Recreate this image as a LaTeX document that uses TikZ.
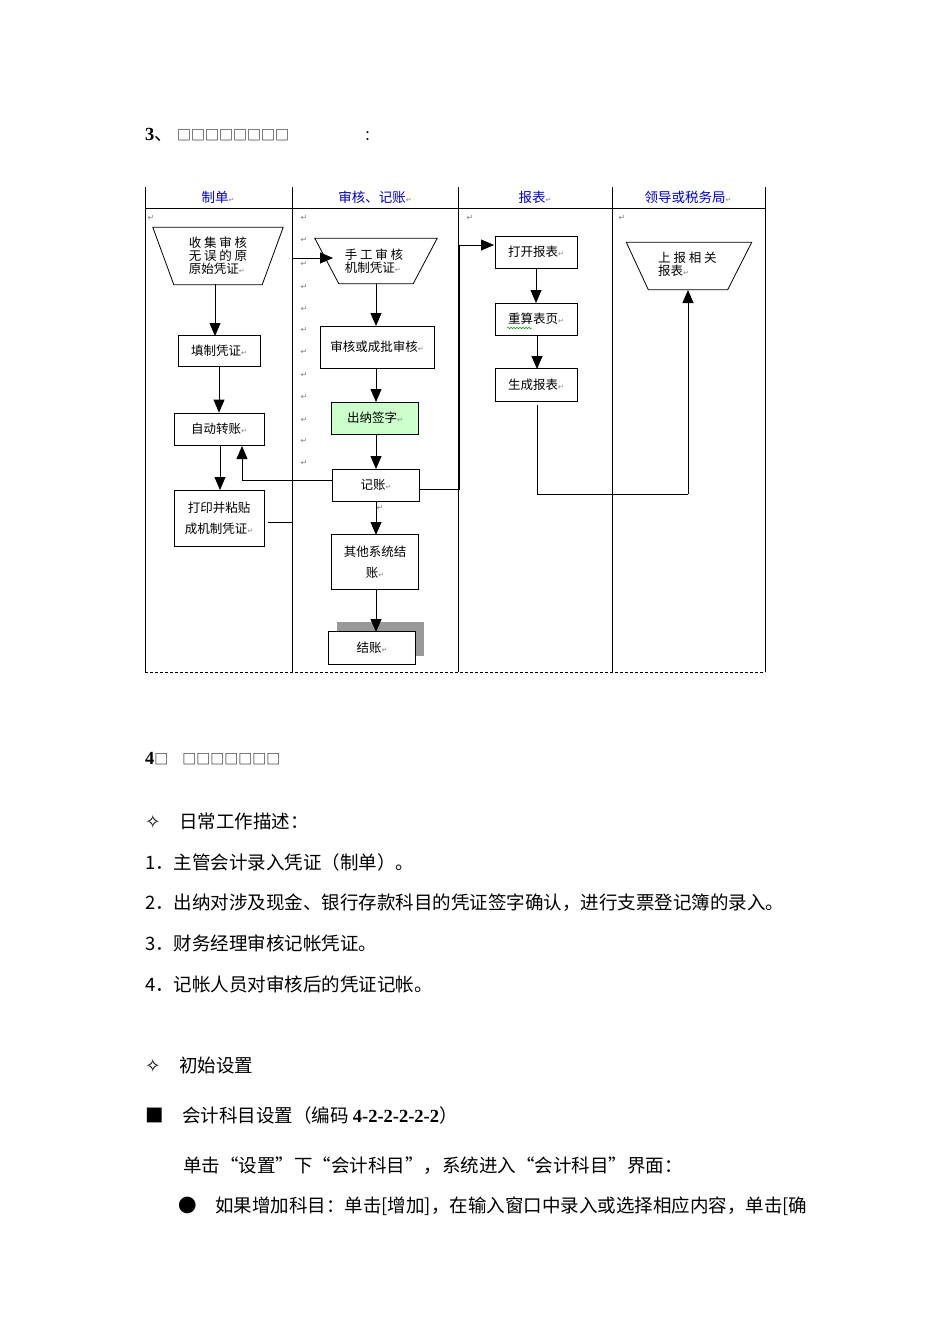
\documentclass[tikz,border=0pt]{standalone}
\usepackage{fontspec}
\setmainfont{Liberation Serif}
\newfontfamily\cjk{Noto Sans CJK SC}
\newfontfamily\dv{DejaVu Sans}
\newcommand{\rmk}{\textcolor{gray}{\dv\fontsize{7}{8}\selectfont ↵}}
\usetikzlibrary{arrows.meta,decorations.pathmorphing}
\begin{document}
\begin{tikzpicture}[x=1pt,y=-1pt,
  box/.style={draw,line width=0.8pt,inner sep=0pt,font=\cjk\fontsize{12.5}{15}\selectfont,align=center},
  trap/.style={inner sep=0pt,font=\cjk\fontsize{12.5}{14}\selectfont,align=left},
  arr/.style={line width=0.8pt,-{Triangle[width=11pt,length=13pt]}},
  ln/.style={line width=0.8pt},
  hd/.style={font=\cjk\fontsize{13.5}{15}\selectfont,text=blue!80!black},
  rm/.style={font=\dv\fontsize{8}{9}\selectfont,text=gray,inner sep=0pt},
  body/.style={anchor=west,inner sep=0pt,font=\cjk\fontsize{18.5}{20}\selectfont}]
\useasboundingbox (0,0) rectangle (950,1344);
\fill[white] (0,0) rectangle (950,1344);
% title
\node[body,anchor=west] (title) at (145,135) {\textbf{\fontspec{Liberation Serif}3}、\ \fontsize{14}{16}\selectfont □□□□□□□□\hspace{75pt}：};
% table
\draw[ln] (145,187) -- (145,672) (292,187) -- (292,672) (458,187) -- (458,672) (612,187) -- (612,672) (765,187) -- (765,672);
\draw[ln] (145,208) -- (765,208);
\draw[ln,dashed,dash pattern=on 3pt off 2pt] (145,672) -- (765,672);
\node[hd] (h1) at (218,197) {制单\rmk};
\node[hd] (h2) at (375,197) {审核、记账\rmk};
\node[hd] (h3) at (535,197) {报表\rmk};
\node[hd] (h4) at (688,197) {领导或税务局\rmk};
% return marks
\foreach \i/\x/\y in {a/151/218,b/470/218,c/622/218}{\node[rm] (r\i) at (\x,\y) {↵};}
\foreach \y [count=\k] in {218,240,264,287,309,330,352,375,397,420,441,463}{\node[rm] (m\k) at (304,\y) {↵};}
% left column
\node[trap,minimum width=130pt,minimum height=57pt] (t1) at (218,256) {};
\draw[ln] (t1.north west) -- (t1.north east) -- ([xshift=-21pt]t1.south east) -- ([xshift=21pt]t1.south west) -- cycle;
\node[trap] (t1t) at (218,256) {收 集 审 核\\[-1pt]无 误 的 原\\[-1pt]原始凭证\rmk};
\node[box,minimum width=82pt,minimum height=31pt] (b1) at (219,351) {填制凭证\rmk};
\node[box,minimum width=90pt,minimum height=32pt] (b2) at (219,429) {自动转账\rmk};
\node[box,minimum width=90pt,minimum height=56pt,font=\cjk\fontsize{12.5}{21}\selectfont] (b3) at (219,518) {打印并粘贴\\成机制凭证\rmk};
\draw[arr] (215,284) -- (215,336);
\draw[arr] (b1.south) -- (b2.north);
\draw[arr] (220,445) -- (220,490);
% middle column
\node[trap,minimum width=122pt,minimum height=45pt] (t2) at (376,261) {};
\draw[ln] (t2.north west) -- (t2.north east) -- ([xshift=-24pt]t2.south east) -- ([xshift=24pt]t2.south west) -- cycle;
\node[trap] (t2t) at (374,261) {手 工 审 核\\[-1pt]机制凭证\rmk};
\node[box,minimum width=114pt,minimum height=42pt] (c1) at (377,347) {审核或成批审核\rmk};
\node[box,minimum width=87pt,minimum height=32pt,fill=green!20] (c2) at (375,418) {出纳签字\rmk};
\node[box,minimum width=87pt,minimum height=32pt] (c3) at (376,485) {记账\rmk};
\node[box,minimum width=87pt,minimum height=55pt,font=\cjk\fontsize{12.5}{21}\selectfont] (c4) at (375,562) {其他系统结\\账\rmk};
\fill[gray!80] (337,622) rectangle (424,656);
\node[box,minimum width=87pt,minimum height=33pt,fill=white] (c5) at (372,648) {结账\rmk};
\node[rm] (m13) at (380,508) {↵};
\draw[arr] (376,284) -- (376,326);
\draw[arr] (376,368) -- (376,402);
\draw[arr] (376,434) -- (376,469);
\draw[arr] (376,501) -- (376,535);
\draw[arr] (376,590) -- (376,632);
% report column
\node[box,minimum width=82pt,minimum height=32pt] (d1) at (536,252) {打开报表\rmk};
\node[box,minimum width=82pt,minimum height=32pt] (d2) at (536,319) {重算表页\rmk};
\draw[green!60!black,line width=0.5pt,decorate,decoration={snake,amplitude=0.8pt,segment length=3pt}] (507,328) -- (532,328);
\node[box,minimum width=82pt,minimum height=33pt] (d3) at (536,385) {生成报表\rmk};
\draw[arr] (536,268) -- (536,303);
\draw[arr] (537,335) -- (537,369);
% right column
\node[trap,minimum width=125pt,minimum height=47pt] (t3) at (689,266) {};
\draw[ln] (t3.north west) -- (t3.north east) -- ([xshift=-24pt]t3.south east) -- ([xshift=22pt]t3.south west) -- cycle;
\node[trap,anchor=west] (t3t) at (658,264) {上 报 相 关\\[-1pt]报表\rmk};
% cross connectors
\coordinate (p1) at (292,522);
\coordinate (p2) at (292,258);
\draw[ln] (268,522) -- (p1) -- (p2);
\draw[arr] (p2) -- (333,258);
\coordinate (q1) at (242,480);
\draw[arr] (c3.west |- q1) -- (q1) -- (242,446);
\coordinate (s1) at (459,489);
\coordinate (s2) at (459,245);
\draw[ln] (c3.east |- s1) -- (s1) -- (s2);
\draw[arr] (s2) -- (494,245);
\coordinate (u1) at (537,494);
\coordinate (u2) at (688,494);
\draw[ln] (537,405) -- (u1) -- (u2);
\draw[arr] (u2) -- (688,290);
% text below
\node[body] (s4) at (145,759) {\textbf{\fontspec{Liberation Serif}4}\fontsize{14}{16}\selectfont □\quad □□□□□□□};
\node[body] (l0) at (145,821) {{\dv ✧}\quad 日常工作描述：};
\node[body] (l1) at (145,862) {1．主管会计录入凭证（制单）。};
\node[body] (l2) at (145,903) {2．出纳对涉及现金、银行存款科目的凭证签字确认，进行支票登记簿的录入。};
\node[body] (l3) at (145,943) {3．财务经理审核记帐凭证。};
\node[body] (l4) at (145,984) {4．记帐人员对审核后的凭证记帐。};
\node[body] (l5) at (145,1065) {{\dv ✧}\quad 初始设置};
\node[body] (l6) at (145,1115) {■\quad 会计科目设置（编码 \textbf{\fontspec{Liberation Serif}4-2-2-2-2-2}）};
\node[body] (l7) at (183,1166) {单击“设置”下“会计科目”，系统进入“会计科目”界面：};
\node[body] (l8) at (178,1206) {●\quad 如果增加科目：单击[增加]，在输入窗口中录入或选择相应内容，单击[确};
\end{tikzpicture}
\end{document}
